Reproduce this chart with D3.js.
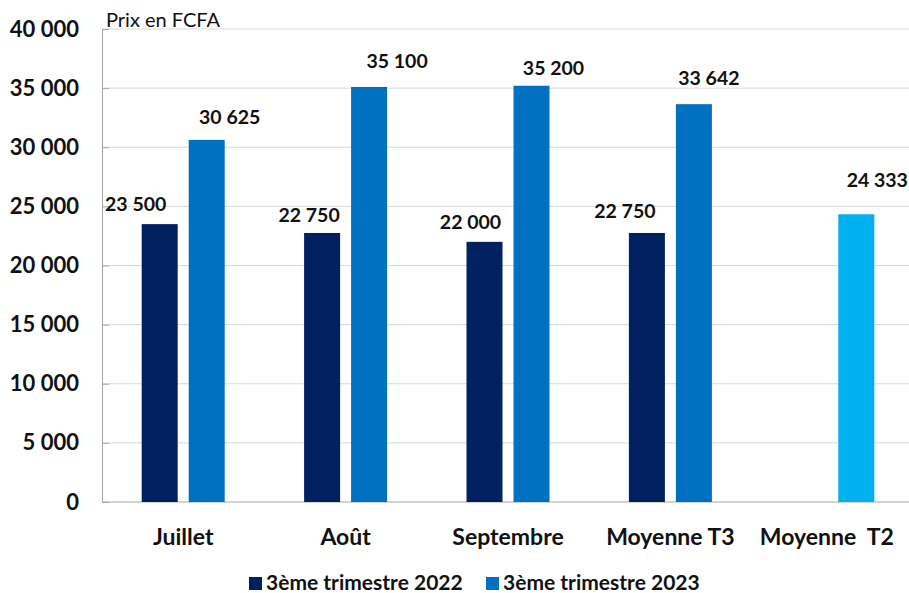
<!DOCTYPE html>
<html>
<head>
<meta charset="utf-8">
<script src="https://cdn.jsdelivr.net/npm/d3@7"></script>
<style>
  html, body { margin: 0; padding: 0; background: #fff; }
  svg { display: block; font-family: Lato, "Open Sans", sans-serif; }
</style>
</head>
<body>
<svg id="chart" width="909" height="593"></svg>
<script>
// ---- data ----
const categories = ["Juillet", "Août", "Septembre", "Moyenne T3", "Moyenne  T2"];
const series = ["3ème trimestre 2022", "3ème trimestre 2023"];
const values2022 = [23500, 22750, 22000, 22750, null];
const values2023 = [30625, 35100, 35200, 33642, 24333];
const yTicks = [0, 5000, 10000, 15000, 20000, 25000, 30000, 35000, 40000];
const yUnit = "Prix en FCFA";

// ---- styles / layout ----
const seriesColors = ["#002060", "#0070C0"];
const highlightColor = "#00B0F0"; // Moyenne T2 bar
const labelNudge2022 = [[-24, -13], [-13, -11], [-14, -13], [-22, -15], [0, 0]];
const labelNudge2023 = [[23, -16], [28, -19], [22, -11], [15, -19], [21, -27]];

const svg = d3.select("#chart");
const margin = { left: 102, right: -5, top: 29, bottom: 91 };
const W = 909, H = 593;

const fmt = v => d3.format(",")(v).replace(/,/g, " ");

const x0 = d3.scaleBand().domain(categories)
  .range([margin.left, W - margin.right]).paddingInner(0).paddingOuter(0);
const groupW = 83;
const x1 = d3.scaleBand().domain(series)
  .range([(x0.bandwidth() - groupW) / 2, (x0.bandwidth() + groupW) / 2])
  .paddingInner(0.234).paddingOuter(0);
const y = d3.scaleLinear().domain([0, 40000]).range([H - margin.bottom, margin.top]);

// gridlines
svg.append("g").selectAll("line").data(yTicks.filter(d => d > 0)).join("line")
  .attr("x1", margin.left).attr("x2", W)
  .attr("y1", d => y(d)).attr("y2", d => y(d))
  .attr("stroke", "#d9d9d9").attr("stroke-width", 1);

// y axis
const yAxis = d3.axisLeft(y).tickValues(yTicks).tickFormat(fmt).tickSizeInner(-7).tickSizeOuter(0).tickPadding(23);
const gy = svg.append("g").attr("transform", `translate(${margin.left},0)`).call(yAxis);
gy.select(".domain").attr("stroke", "#a6a6a6");
gy.selectAll(".tick line").attr("stroke", "#a6a6a6");
gy.selectAll(".tick text").attr("font-size", 22).attr("font-weight", 700)
  .attr("fill", "#111").attr("font-family", "Lato, sans-serif");

// baseline
svg.append("line").attr("x1", margin.left).attr("x2", W)
  .attr("y1", y(0)).attr("y2", y(0)).attr("stroke", "#a6a6a6");

// bars
const rows = categories.map((c, i) => ({
  cat: c,
  bars: [
    { key: series[0], v: values2022[i], color: seriesColors[0], nudge: labelNudge2022[i] },
    { key: series[1], v: values2023[i], color: i === 4 ? highlightColor : seriesColors[1], nudge: labelNudge2023[i] }
  ]
}));

const groups = svg.append("g").selectAll("g").data(rows).join("g")
  .attr("transform", d => `translate(${x0(d.cat)},0)`);

groups.selectAll("rect").data(d => d.bars.filter(b => b.v != null)).join("rect")
  .attr("x", b => x1(b.key)).attr("width", x1.bandwidth())
  .attr("y", b => y(b.v)).attr("height", b => y(0) - y(b.v))
  .attr("fill", b => b.color);

groups.selectAll("text.val").data(d => d.bars.filter(b => b.v != null)).join("text")
  .attr("class", "val")
  .attr("x", b => x1(b.key) + x1.bandwidth() / 2 + b.nudge[0])
  .attr("y", b => y(b.v) + b.nudge[1])
  .attr("text-anchor", "middle")
  .attr("font-size", 19.5).attr("font-weight", 700).attr("fill", "#111")
  .text(b => fmt(b.v));

// category labels
svg.append("g").selectAll("text").data(categories).join("text")
  .attr("x", d => x0(d) + x0.bandwidth() / 2 - (d === categories[4] ? 6 : 0))
  .attr("y", 545)
  .attr("text-anchor", "middle")
  .attr("font-size", 23).attr("font-weight", 700).attr("fill", "#111")
  .style("white-space", "pre").attr("xml:space", "preserve")
  .text(d => d);

// unit label
svg.append("text").attr("x", margin.left + 4).attr("y", 27)
  .attr("font-size", 20).attr("font-weight", 400).attr("fill", "#111")
  .text(yUnit);

// legend
const legend = svg.append("g");
const legendX = [249, 486];
series.forEach((s, i) => {
  const g = legend.append("g").attr("transform", `translate(${legendX[i]},0)`);
  g.append("rect").attr("x", 0).attr("y", 577).attr("width", 13).attr("height", 13)
    .attr("fill", seriesColors[i]);
  g.append("text").attr("x", 17).attr("y", 590)
    .attr("font-size", 21).attr("font-weight", 700).attr("fill", "#111").text(s);
});
</script>
</body>
</html>
